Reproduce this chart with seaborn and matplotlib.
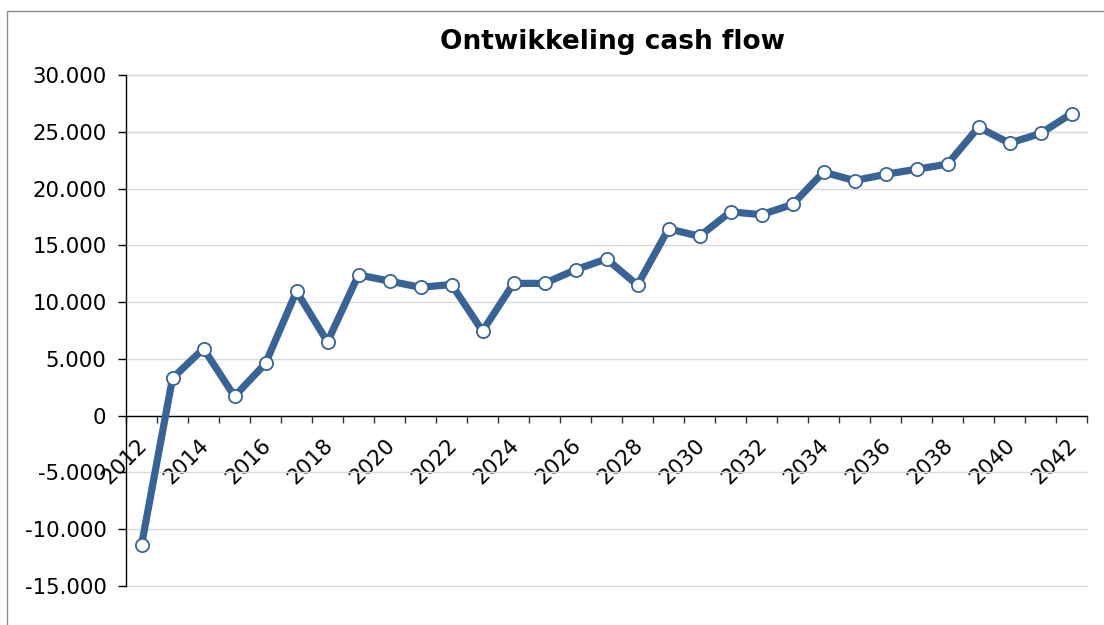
import numpy as np
import pandas as pd
import seaborn as sns
import matplotlib
matplotlib.use("Agg")
import matplotlib.pyplot as plt
import matplotlib.ticker as ticker
import matplotlib.transforms as mtransforms
from matplotlib.patches import Rectangle

# data
jaren = list(range(2012, 2043))
cash_flow = [-11400, 3300, 5900, 1700, 4600, 10950, 6500, 12400, 11850, 11300,
             11550, 7450, 11650, 11650, 12850, 13800, 11500, 16450, 15800, 17950,
             17700, 18600, 21450, 20700, 21250, 21700, 22150, 25400, 24000, 24850,
             26600]
y_ticks = list(range(-15000, 30001, 5000))

df = pd.DataFrame({"jaar": jaren, "cash_flow": cash_flow})

sns.set_theme(style="white")
plt.rcParams['font.family'] = ['DejaVu Sans']
plt.rcParams['text.color'] = 'black'
plt.rcParams['xtick.color'] = 'black'
plt.rcParams['ytick.color'] = 'black'

fig = plt.figure(figsize=(11.04, 6.25), dpi=100)
ax = fig.add_axes([126 / 1104, 1 - 586 / 625, (1087 - 126) / 1104, (586 - 75) / 625])

sns.lineplot(data=df, x="jaar", y="cash_flow", ax=ax, color="#386396", linewidth=5.2,
             marker="o", markersize=9.5, markerfacecolor="white",
             markeredgecolor="#386396", markeredgewidth=1.3, zorder=3)

ax.set_xlim(2011.5, 2042.5)
ax.set_ylim(-15000, 30000)
ax.set_yticks(y_ticks)
ax.yaxis.set_major_formatter(ticker.FuncFormatter(
    lambda v, p: f"{v:,.0f}".replace(",", ".").replace("\u2212", "-")))
ax.grid(axis="y", color="#d9d9d9", linewidth=1)
ax.set_axisbelow(True)
for gl in ax.yaxis.get_gridlines():
    gl.set_clip_on(False)

# category axis crossing at zero
ax.spines["bottom"].set_position(("data", 0))
ax.spines["bottom"].set_color("black")
ax.spines["left"].set_color("black")
ax.spines["bottom"].set_linewidth(1)
ax.spines["left"].set_linewidth(1)
ax.spines["top"].set_visible(False)
ax.spines["right"].set_visible(False)

ax.set_xticks(jaren[::2])
ax.set_xticklabels([str(j) for j in jaren[::2]], rotation=45, ha="right",
                   rotation_mode="anchor", fontsize=15.5)
ax.set_xticks(np.arange(2011.5, 2043, 1), minor=True)
ax.tick_params(axis="x", which="major", length=0, pad=14)
ax.tick_params(axis="x", which="minor", length=5, width=1, color="#333333",
               direction="out", bottom=True)
ax.tick_params(axis="y", which="major", length=6, width=1, color="black",
               direction="out", left=True, labelsize=15.3, pad=8)

# nudge the rotated year labels a little to the left
shift = mtransforms.ScaledTranslation(-5 / 100, 0, fig.dpi_scale_trans)
for lbl in ax.get_xticklabels():
    lbl.set_transform(lbl.get_transform() + shift)

ax.set_xlabel("")
ax.set_ylabel("")

fig.text(0.555, 1 - 42 / 625, "Ontwikkeling cash flow", ha="center", va="center",
         fontsize=19, fontweight="bold", color="black")

# outer chart frame (only top and left visible)
fig.patches.append(Rectangle((7 / 1104, -0.2), 1.5, 1.2 - 10.5 / 625,
                             transform=fig.transFigure, fill=False,
                             edgecolor="#8c8c8c", linewidth=1))

fig.savefig("out.png", dpi=100)
